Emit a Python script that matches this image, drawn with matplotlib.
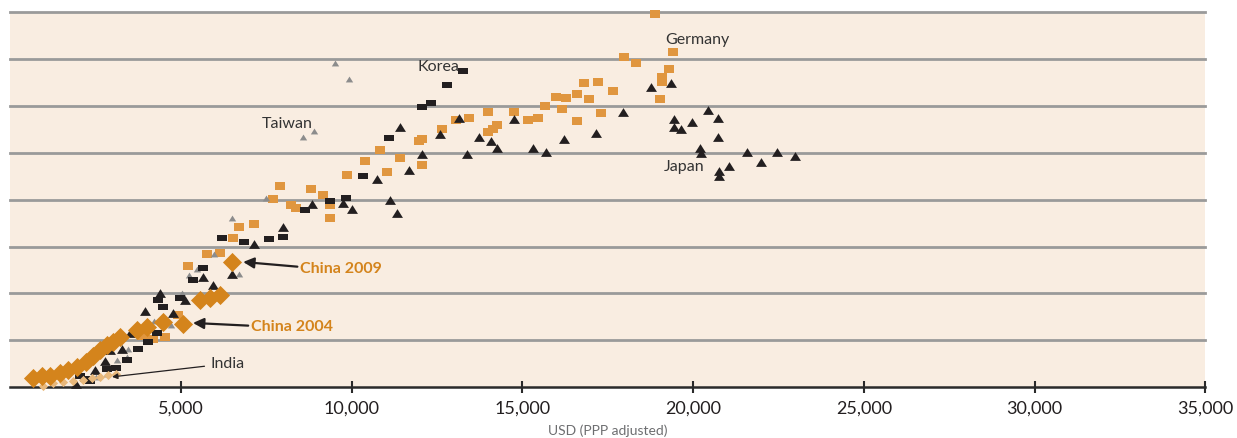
import matplotlib
matplotlib.use('Agg')
import matplotlib.pyplot as plt
from matplotlib.path import Path

plt.rcParams['font.family'] = ['Lato', 'DejaVu Sans']

# Germany (orange rectangles): USD, index
germany_x = [18890, 19420, 17980, 18340, 19300, 19100, 19100, 16810, 17220, 17660,
             19040, 15980, 16280, 16610, 16950, 15670, 16170, 16610, 17310, 14000,
             14760, 13440, 13050, 15170, 15470, 14260, 14140, 14000, 12650, 12070,
             11970, 12070, 11410, 10840, 10400, 9870, 11040, 7910, 8820, 9170,
             7700, 8220, 8360, 9370, 9370, 6710, 7150, 6510, 5770, 6140,
             5210, 4900, 4190, 4530, 3900]
germany_y = [7.96, 7.15, 7.03, 6.92, 6.79, 6.62, 6.51, 6.49, 6.51, 6.32,
             6.15, 6.19, 6.17, 6.26, 6.15, 6.00, 5.94, 5.68, 5.85, 5.87,
             5.87, 5.75, 5.70, 5.70, 5.75, 5.58, 5.51, 5.45, 5.51, 5.30,
             5.26, 4.74, 4.89, 5.06, 4.83, 4.53, 4.59, 4.30, 4.23, 4.10,
             4.02, 3.89, 3.83, 3.89, 3.61, 3.42, 3.49, 3.19, 2.85, 2.87,
             2.59, 1.55, 1.02, 1.08, 1.09]

# Korea (black rectangles)
korea_x = [13270, 12780, 12310, 12070, 11100, 10340, 9840, 9370, 8640, 6850,
           7590, 8000, 6210, 5650, 5360, 4330, 4480, 4970, 4290, 4040,
           3750, 3410, 2820, 3100, 2190, 2330, 2040]
korea_y = [6.75, 6.44, 6.07, 5.98, 5.32, 4.51, 4.04, 3.96, 3.78, 3.10,
           3.17, 3.21, 3.19, 2.55, 2.29, 1.86, 1.70, 1.91, 1.16, 0.97,
           0.82, 0.57, 0.38, 0.41, 0.18, 0.14, 0.24]

# Japan (black triangles)
japan_x = [18770, 19350, 17940, 17170, 16210, 19450, 19450, 19650, 19970, 20430,
           20730, 20730, 20200, 20240, 21060, 20770, 20770, 21570, 21990, 22450,
           22990, 13140, 14760, 12590, 11420, 13730, 14070, 14260, 12060, 13390,
           15320, 15690, 11670, 10730, 11120, 11330, 8850, 9740, 10010, 8000,
           7140, 6480, 5650, 5930, 4380, 5120, 4760, 3950, 3260, 2770,
           2920, 2480, 1920, 3510]
japan_y = [6.41, 6.48, 5.86, 5.41, 5.29, 5.71, 5.55, 5.51, 5.65, 5.90,
           5.75, 5.33, 5.11, 4.99, 4.72, 4.62, 4.50, 5.02, 4.81, 5.02,
           4.93, 5.74, 5.71, 5.40, 5.55, 5.33, 5.25, 5.09, 4.97, 4.97,
           5.09, 5.02, 4.64, 4.43, 3.99, 3.71, 3.91, 3.93, 3.81, 3.42,
           3.05, 2.42, 2.35, 2.17, 2.00, 1.86, 1.59, 1.62, 0.81, 0.56,
           0.79, 0.37, 0.06, 1.16]

# Taiwan (small grey triangles)
taiwan_x = [9510, 9930, 8580, 8890, 7480, 6500, 5970, 5480, 5230, 6710,
            5020, 4210, 4710, 3460, 3120, 3430, 2820, 2510]
taiwan_y = [6.92, 6.57, 5.33, 5.46, 4.03, 3.60, 2.85, 2.52, 2.40, 2.41,
            2.00, 1.42, 1.33, 0.81, 0.59, 0.65, 0.28, 0.22]

# India (small tan diamonds)
india_x = [960, 1250, 1540, 1840, 2130, 2390, 2630, 2860, 3100]
india_y = [0.03, 0.08, 0.12, 0.13, 0.16, 0.20, 0.22, 0.25, 0.28]

# China (large orange diamonds)
china_x = [670, 920, 1160, 1460, 1700, 1940, 2220, 2430, 2630, 2820,
           3020, 3210, 3700, 4000, 4480, 5050, 5560, 5850, 6150, 6480]
china_y = [0.19, 0.24, 0.24, 0.30, 0.37, 0.44, 0.53, 0.67, 0.79, 0.90,
           0.97, 1.06, 1.22, 1.29, 1.40, 1.34, 1.86, 1.91, 1.97, 2.68]

x_ticks = [5000, 10000, 15000, 20000, 25000, 30000, 35000]
grid_levels = [1, 2, 3, 4, 5, 6, 7, 8]

BG = '#f9ede1'
ORANGE = '#e0963f'
CHINA = '#d4841c'
DARK = '#231f20'
GREY = '#8c8c8c'
TAN = '#e8b87c'

rect = Path([(-1, -0.65), (1, -0.65), (1, 0.65), (-1, 0.65), (-1, -0.65)],
            [Path.MOVETO, Path.LINETO, Path.LINETO, Path.LINETO, Path.CLOSEPOLY])
tri = Path([(-1, -0.8), (1, -0.8), (0, 0.8), (-1, -0.8)],
           [Path.MOVETO, Path.LINETO, Path.LINETO, Path.CLOSEPOLY])

fig = plt.figure(figsize=(12.37, 4.38), dpi=100)
ax = fig.add_axes([10.3 / 1237, 50.8 / 438, 1194.9 / 1237, 375.2 / 438])
ax.set_facecolor(BG)
ax.set_xlim(0, 35000)
ax.set_ylim(0, 8)

for g in grid_levels:
    ax.axhline(g, color='#9a9a9a', lw=2.0, zorder=1, clip_on=False)

kw = dict(linewidths=0, clip_on=False)
ax.scatter(germany_x, germany_y, marker=rect, s=62, color=ORANGE, zorder=3, **kw)
ax.scatter(taiwan_x, taiwan_y, marker=tri, s=28, color=GREY, zorder=3, **kw)
ax.scatter(korea_x, korea_y, marker=rect, s=55, color=DARK, zorder=4, **kw)
ax.scatter(japan_x, japan_y, marker=tri, s=62, color=DARK, zorder=4, **kw)
ax.scatter(india_x, india_y, marker='D', s=22, color=TAN, zorder=5, **kw)
ax.scatter(china_x, china_y, marker='D', s=95, color=CHINA, zorder=6, **kw)

# annotations
lab = dict(fontsize=11.5, color='#333333', va='center', ha='left')
ax.text(11940, 6.83, 'Korea', **lab)
ax.text(19170, 7.40, 'Germany', **lab)
ax.text(7370, 5.61, 'Taiwan', **lab)
ax.text(19140, 4.69, 'Japan', **lab)

arrow = dict(arrowstyle='-|>', color=DARK, lw=1.6, mutation_scale=16)
ax.annotate('China 2009', xy=(6820, 2.67), xytext=(8490, 2.52),
            fontsize=11.5, fontweight='bold', color=CHINA, va='center',
            arrowprops=dict(arrow, shrinkA=0, shrinkB=0, relpos=(0, 0.65)), zorder=7)
ax.annotate('China 2004', xy=(5350, 1.37), xytext=(7050, 1.28),
            fontsize=11.5, fontweight='bold', color=CHINA, va='center',
            arrowprops=dict(arrow, shrinkA=0, shrinkB=0, relpos=(0, 0.6)), zorder=7)
ax.annotate('India', xy=(2980, 0.22), xytext=(5850, 0.49),
            fontsize=11.5, color='#333333', va='center',
            arrowprops=dict(arrowstyle='-|>', color=DARK, lw=0.9, mutation_scale=8,
                            shrinkA=2, shrinkB=0, relpos=(0, 0.4)), zorder=7)

for side in ['left', 'right', 'top']:
    ax.spines[side].set_visible(False)
ax.spines['bottom'].set_color('#2a2a2a')
ax.spines['bottom'].set_linewidth(1.8)
ax.set_yticks([])
ax.set_xticks(x_ticks)
ax.set_xticklabels([f'{v:,}' for v in x_ticks])
ax.tick_params(axis='x', direction='inout', length=8, width=1.5, color='#2a2a2a',
               labelsize=13, labelcolor='#231f20', pad=6)
ax.set_xlabel('USD (PPP adjusted)', fontsize=10, color='#6d6e70', labelpad=5)

fig.savefig('out.png', dpi=100, facecolor='white')
